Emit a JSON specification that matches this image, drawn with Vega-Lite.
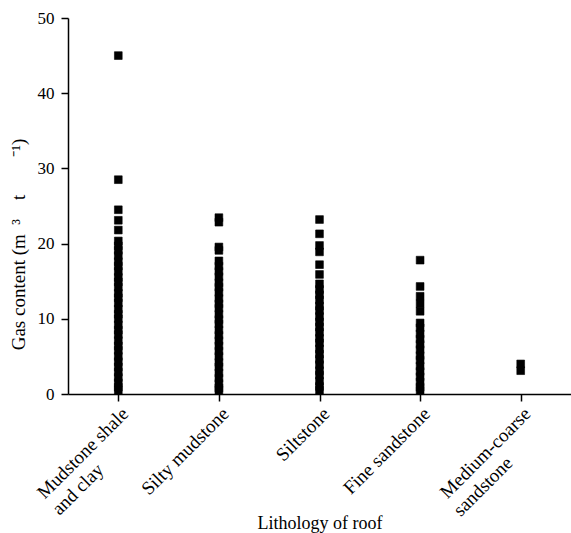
{
  "$schema": "https://vega.github.io/schema/vega-lite/v6.json",
  "width": 503,
  "height": 376,
  "autosize": {"type": "none"},
  "padding": {"left": 68, "top": 18, "right": 0, "bottom": 139},
  "background": "white",
  "config": {
    "view": {"stroke": null},
    "font": "Liberation Serif",
    "axis": {"grid": false, "domainColor": "black", "tickColor": "black", "labelColor": "black", "titleColor": "black", "labelFont": "Liberation Serif", "titleFont": "Liberation Serif", "titleFontWeight": "normal", "domainWidth": 1.5, "tickWidth": 1.5}
  },
  "data": {"values": [
    {"rock": "Mudstone shale and clay", "gas": 45.0},
    {"rock": "Mudstone shale and clay", "gas": 28.5},
    {"rock": "Mudstone shale and clay", "gas": 24.5},
    {"rock": "Mudstone shale and clay", "gas": 23.1},
    {"rock": "Mudstone shale and clay", "gas": 21.8},
    {"rock": "Mudstone shale and clay", "gas": 20.35},
    {"rock": "Mudstone shale and clay", "gas": 19.7},
    {"rock": "Mudstone shale and clay", "gas": 19.1},
    {"rock": "Mudstone shale and clay", "gas": 18.4},
    {"rock": "Mudstone shale and clay", "gas": 17.6},
    {"rock": "Mudstone shale and clay", "gas": 17.0},
    {"rock": "Mudstone shale and clay", "gas": 16.3},
    {"rock": "Mudstone shale and clay", "gas": 15.5},
    {"rock": "Mudstone shale and clay", "gas": 14.9},
    {"rock": "Mudstone shale and clay", "gas": 14.2},
    {"rock": "Mudstone shale and clay", "gas": 13.4},
    {"rock": "Mudstone shale and clay", "gas": 12.8},
    {"rock": "Mudstone shale and clay", "gas": 12.1},
    {"rock": "Mudstone shale and clay", "gas": 11.3},
    {"rock": "Mudstone shale and clay", "gas": 10.6},
    {"rock": "Mudstone shale and clay", "gas": 10.0},
    {"rock": "Mudstone shale and clay", "gas": 9.2},
    {"rock": "Mudstone shale and clay", "gas": 8.5},
    {"rock": "Mudstone shale and clay", "gas": 7.9},
    {"rock": "Mudstone shale and clay", "gas": 7.1},
    {"rock": "Mudstone shale and clay", "gas": 6.4},
    {"rock": "Mudstone shale and clay", "gas": 5.8},
    {"rock": "Mudstone shale and clay", "gas": 5.0},
    {"rock": "Mudstone shale and clay", "gas": 4.3},
    {"rock": "Mudstone shale and clay", "gas": 3.6},
    {"rock": "Mudstone shale and clay", "gas": 2.9},
    {"rock": "Mudstone shale and clay", "gas": 2.2},
    {"rock": "Mudstone shale and clay", "gas": 1.5},
    {"rock": "Mudstone shale and clay", "gas": 0.9},
    {"rock": "Mudstone shale and clay", "gas": 0.5},
    {"rock": "Silty mudstone", "gas": 23.45},
    {"rock": "Silty mudstone", "gas": 22.85},
    {"rock": "Silty mudstone", "gas": 19.55},
    {"rock": "Silty mudstone", "gas": 19.1},
    {"rock": "Silty mudstone", "gas": 17.7},
    {"rock": "Silty mudstone", "gas": 17.0},
    {"rock": "Silty mudstone", "gas": 16.3},
    {"rock": "Silty mudstone", "gas": 15.6},
    {"rock": "Silty mudstone", "gas": 14.8},
    {"rock": "Silty mudstone", "gas": 14.2},
    {"rock": "Silty mudstone", "gas": 13.5},
    {"rock": "Silty mudstone", "gas": 12.7},
    {"rock": "Silty mudstone", "gas": 12.0},
    {"rock": "Silty mudstone", "gas": 11.4},
    {"rock": "Silty mudstone", "gas": 10.6},
    {"rock": "Silty mudstone", "gas": 9.9},
    {"rock": "Silty mudstone", "gas": 9.3},
    {"rock": "Silty mudstone", "gas": 8.5},
    {"rock": "Silty mudstone", "gas": 7.8},
    {"rock": "Silty mudstone", "gas": 7.1},
    {"rock": "Silty mudstone", "gas": 6.4},
    {"rock": "Silty mudstone", "gas": 5.7},
    {"rock": "Silty mudstone", "gas": 5.0},
    {"rock": "Silty mudstone", "gas": 4.2},
    {"rock": "Silty mudstone", "gas": 3.6},
    {"rock": "Silty mudstone", "gas": 2.8},
    {"rock": "Silty mudstone", "gas": 2.1},
    {"rock": "Silty mudstone", "gas": 1.4},
    {"rock": "Silty mudstone", "gas": 0.8},
    {"rock": "Silty mudstone", "gas": 0.5},
    {"rock": "Siltstone", "gas": 23.2},
    {"rock": "Siltstone", "gas": 21.3},
    {"rock": "Siltstone", "gas": 19.75},
    {"rock": "Siltstone", "gas": 18.9},
    {"rock": "Siltstone", "gas": 17.2},
    {"rock": "Siltstone", "gas": 15.9},
    {"rock": "Siltstone", "gas": 14.65},
    {"rock": "Siltstone", "gas": 13.9},
    {"rock": "Siltstone", "gas": 13.2},
    {"rock": "Siltstone", "gas": 12.5},
    {"rock": "Siltstone", "gas": 11.7},
    {"rock": "Siltstone", "gas": 11.1},
    {"rock": "Siltstone", "gas": 10.3},
    {"rock": "Siltstone", "gas": 9.6},
    {"rock": "Siltstone", "gas": 8.9},
    {"rock": "Siltstone", "gas": 8.2},
    {"rock": "Siltstone", "gas": 7.4},
    {"rock": "Siltstone", "gas": 6.8},
    {"rock": "Siltstone", "gas": 6.0},
    {"rock": "Siltstone", "gas": 5.3},
    {"rock": "Siltstone", "gas": 4.6},
    {"rock": "Siltstone", "gas": 3.9},
    {"rock": "Siltstone", "gas": 3.1},
    {"rock": "Siltstone", "gas": 2.5},
    {"rock": "Siltstone", "gas": 1.7},
    {"rock": "Siltstone", "gas": 1.0},
    {"rock": "Siltstone", "gas": 0.5},
    {"rock": "Fine sandstone", "gas": 17.8},
    {"rock": "Fine sandstone", "gas": 14.3},
    {"rock": "Fine sandstone", "gas": 13.0},
    {"rock": "Fine sandstone", "gas": 12.0},
    {"rock": "Fine sandstone", "gas": 11.0},
    {"rock": "Fine sandstone", "gas": 9.45},
    {"rock": "Fine sandstone", "gas": 8.8},
    {"rock": "Fine sandstone", "gas": 8.0},
    {"rock": "Fine sandstone", "gas": 7.3},
    {"rock": "Fine sandstone", "gas": 6.6},
    {"rock": "Fine sandstone", "gas": 5.9},
    {"rock": "Fine sandstone", "gas": 5.1},
    {"rock": "Fine sandstone", "gas": 4.5},
    {"rock": "Fine sandstone", "gas": 3.7},
    {"rock": "Fine sandstone", "gas": 3.0},
    {"rock": "Fine sandstone", "gas": 2.3},
    {"rock": "Fine sandstone", "gas": 1.6},
    {"rock": "Fine sandstone", "gas": 0.9},
    {"rock": "Fine sandstone", "gas": 0.5},
    {"rock": "Medium-coarse sandstone", "gas": 4.0},
    {"rock": "Medium-coarse sandstone", "gas": 3.1}
  ]},
  "mark": {"type": "point", "shape": "square", "filled": true, "size": 60, "color": "black", "stroke": "black", "strokeWidth": 0.6, "opacity": 1},
  "encoding": {
    "x": {
      "field": "rock", "type": "nominal",
      "sort": ["Mudstone shale and clay", "Silty mudstone", "Siltstone", "Fine sandstone", "Medium-coarse sandstone"],
      "scale": {"type": "point", "padding": 0.5},
      "axis": {
        "title": "Lithology of roof", "titleFontSize": 18, "titleY": 134, "titleBaseline": "alphabetic",
        "labelAngle": -45, "labelAlign": "right", "labelBaseline": "top", "labelFontSize": 19,
        "labelPadding": 3, "labelLineHeight": 22, "tickSize": 7,
        "labelExpr": "datum.value == 'Mudstone shale and clay' ? ['Mudstone shale', 'and clay\u2002\u2002\u2002\u2002\u2002\u2002\u2060'] : datum.value == 'Medium-coarse sandstone' ? ['Medium-coarse', 'sandstone\u2002\u2002\u2002\u2002\u2002\u2060'] : datum.value"
      }
    },
    "y": {
      "field": "gas", "type": "quantitative",
      "scale": {"domain": [0, 50], "nice": false, "zero": true},
      "axis": {"title": "Gas content (m\u2002³\u2002\u2002t\u2002\u2002\u2002\u2002⁻¹)", "titleFontSize": 19, "titleX": -50, "titleY": 226, "titleBaseline": "middle", "titleAlign": "center", "labelFontSize": 17, "labelPadding": 7, "tickSize": 7, "values": [0, 10, 20, 30, 40, 50]}
    }
  }
}
